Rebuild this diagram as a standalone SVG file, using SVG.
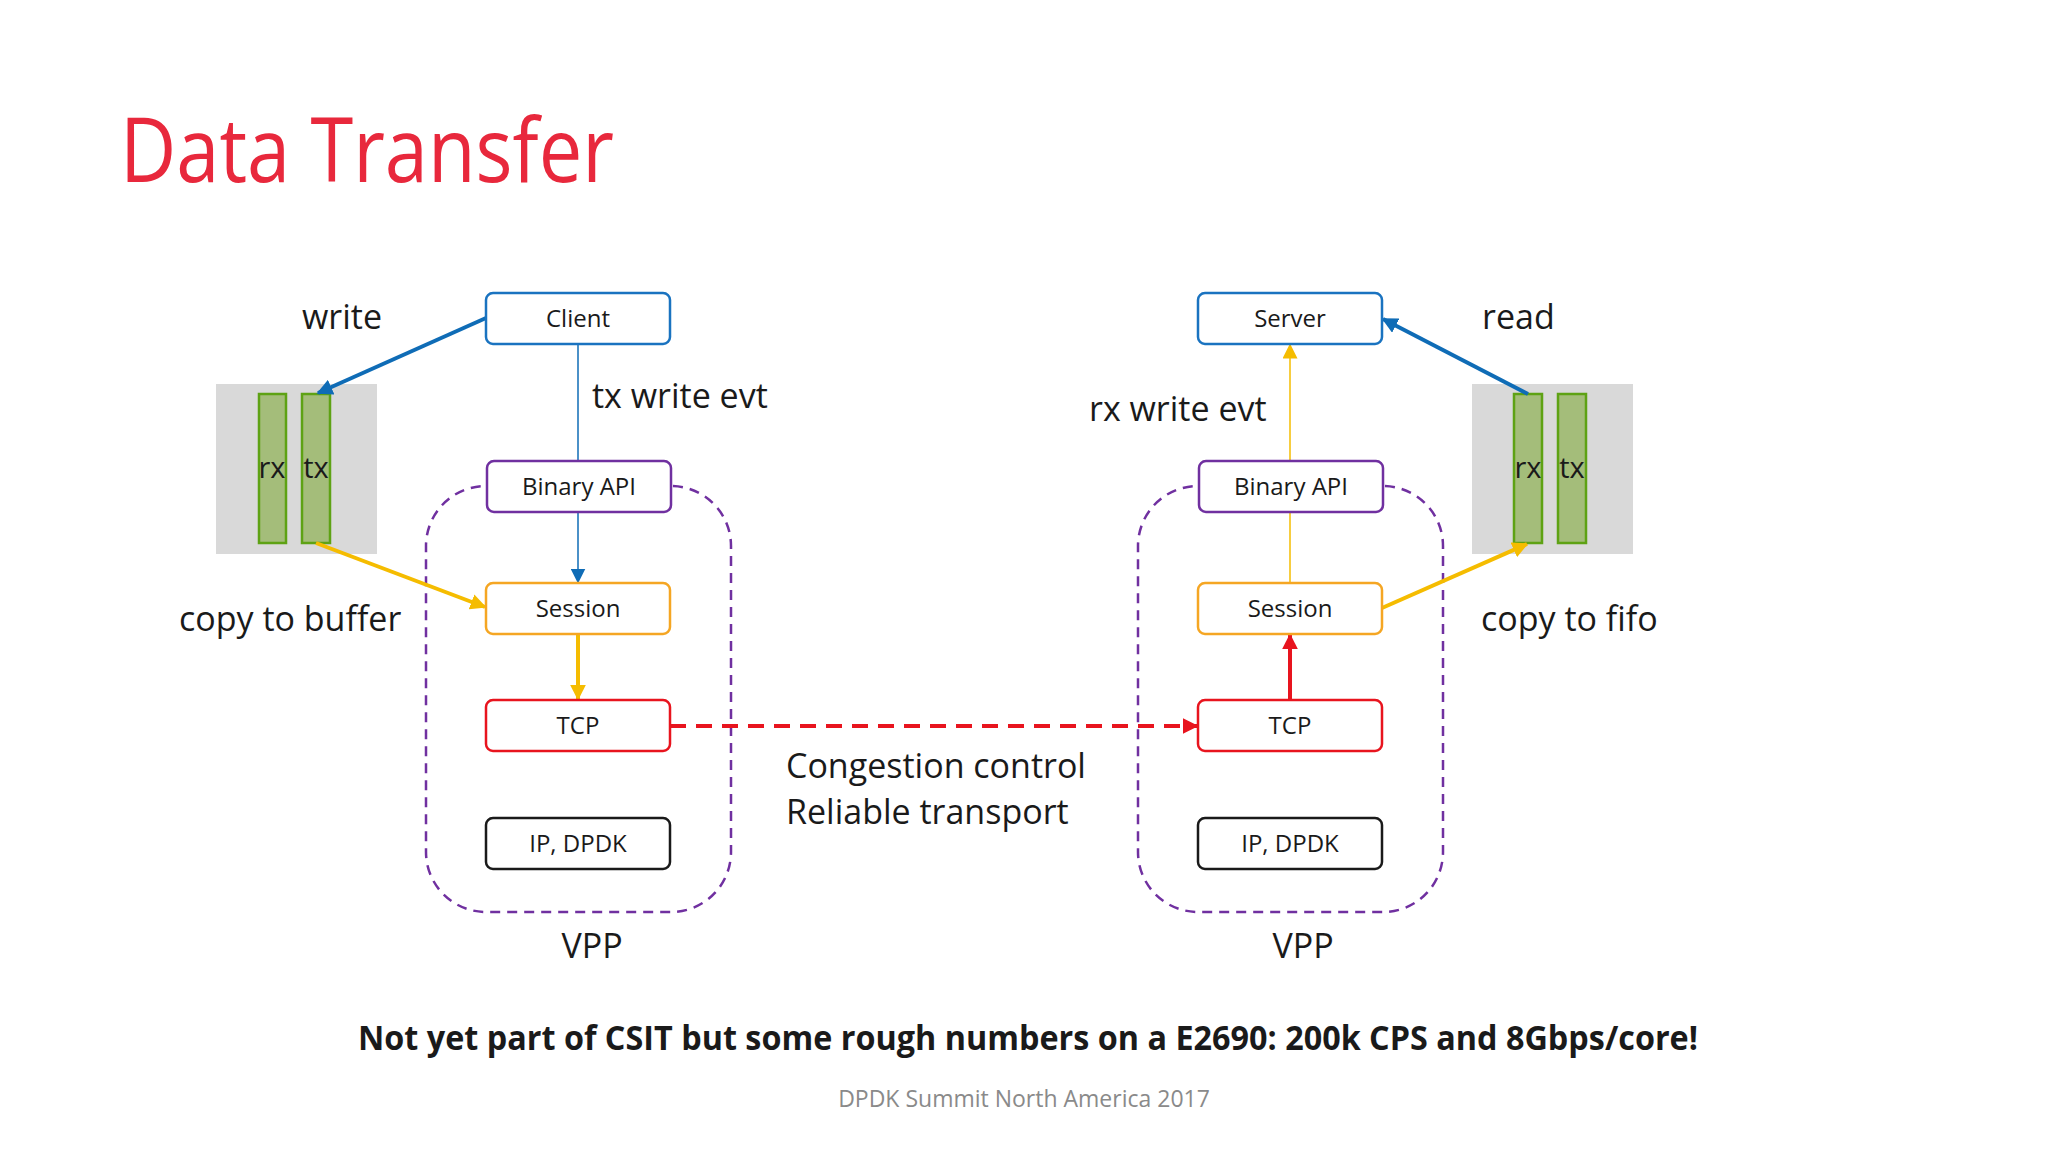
<svg xmlns="http://www.w3.org/2000/svg" width="2048" height="1152" viewBox="0 0 2048 1152">
<style>
text{font-family:"Open Sans","Noto Sans",sans-serif;fill:#1a1a1a}
.box{fill:#fff;stroke-width:2.5}
.bt{font-size:24px;text-anchor:middle}
.lbl{font-size:34px}
.vpp{fill:none;stroke:#7030a0;stroke-width:2.5;stroke-dasharray:10 7}
.bar{fill:#a4bd7a;stroke:#5ea214;stroke-width:2.5}
</style>
<defs>
<marker id="ab" viewBox="0 0 10 10" refX="9" refY="5" markerWidth="4" markerHeight="4" orient="auto"><path d="M0,0L10,5L0,10z" fill="#0f6cb6"/></marker>
<marker id="abs" viewBox="0 0 10 10" refX="9" refY="5" markerWidth="10" markerHeight="10" orient="auto"><path d="M0,0L10,5L0,10z" fill="#0f6cb6"/></marker>
<marker id="ay" viewBox="0 0 10 10" refX="9" refY="5" markerWidth="4" markerHeight="4" orient="auto"><path d="M0,0L10,5L0,10z" fill="#f5bc00"/></marker>
<marker id="ays" viewBox="0 0 10 10" refX="9" refY="5" markerWidth="10" markerHeight="10" orient="auto"><path d="M0,0L10,5L0,10z" fill="#f5bc00"/></marker>
<marker id="ar" viewBox="0 0 10 10" refX="9" refY="5" markerWidth="4" markerHeight="4" orient="auto"><path d="M0,0L10,5L0,10z" fill="#e8141e"/></marker>
</defs>
<rect width="2048" height="1152" fill="#fff"/>
<text x="120" y="182" font-size="90" style="fill:#e8283c" textLength="494" lengthAdjust="spacingAndGlyphs">Data Transfer</text>

<g id="vpp-left"><rect class="vpp" x="426" y="486" width="305" height="426" rx="60"/><text class="lbl" x="592" y="958" text-anchor="middle">VPP</text></g>
<g id="vpp-right"><rect class="vpp" x="1138" y="486" width="305" height="426" rx="60"/><text class="lbl" x="1303" y="958" text-anchor="middle">VPP</text></g>

<g id="buffer-left">
<rect x="216" y="384" width="161" height="170" fill="#d9d9d9"/>
<rect class="bar" x="259" y="394" width="27" height="149"/>
<rect class="bar" x="302" y="394" width="28" height="149"/>
<text x="272" y="478" font-size="29" text-anchor="middle">rx</text>
<text x="316" y="478" font-size="29" text-anchor="middle">tx</text>
</g>
<g id="buffer-right">
<rect x="1472" y="384" width="161" height="170" fill="#d9d9d9"/>
<rect class="bar" x="1514" y="394" width="28" height="149"/>
<rect class="bar" x="1558" y="394" width="28" height="149"/>
<text x="1528" y="478" font-size="29" text-anchor="middle">rx</text>
<text x="1572" y="478" font-size="29" text-anchor="middle">tx</text>
</g>

<g id="connectors" fill="none">
<line x1="486" y1="318" x2="318" y2="393" stroke="#0f6cb6" stroke-width="4" marker-end="url(#ab)"/>
<line x1="578" y1="344" x2="578" y2="461" stroke="#0f6cb6" stroke-width="1.5"/>
<line x1="578" y1="512" x2="578" y2="582" stroke="#0f6cb6" stroke-width="1.5" marker-end="url(#abs)"/>
<line x1="316" y1="543" x2="485" y2="607" stroke="#f5bc00" stroke-width="4" marker-end="url(#ay)"/>
<line x1="578" y1="634" x2="578" y2="699" stroke="#f5bc00" stroke-width="4" marker-end="url(#ay)"/>
<line x1="670" y1="726" x2="1197" y2="726" stroke="#e8141e" stroke-width="4" stroke-dasharray="16 10" marker-end="url(#ar)"/>
<line x1="1290" y1="700" x2="1290" y2="635" stroke="#e8141e" stroke-width="4" marker-end="url(#ar)"/>
<line x1="1290" y1="583" x2="1290" y2="512" stroke="#f5bc00" stroke-width="1.5"/>
<line x1="1290" y1="461" x2="1290" y2="345" stroke="#f5bc00" stroke-width="1.5" marker-end="url(#ays)"/>
<line x1="1382" y1="608" x2="1527" y2="544" stroke="#f5bc00" stroke-width="4" marker-end="url(#ay)"/>
<line x1="1528" y1="394" x2="1383" y2="319" stroke="#0f6cb6" stroke-width="4" marker-end="url(#ab)"/>
</g>

<g id="client"><rect class="box" x="486" y="293" width="184" height="51" rx="7" stroke="#1a73c0"/><text class="bt" x="578" y="327">Client</text></g>
<g id="binapi-left"><rect class="box" x="487" y="461" width="184" height="51" rx="7" stroke="#7030a0"/><text class="bt" x="579" y="495">Binary API</text></g>
<g id="session-left"><rect class="box" x="486" y="583" width="184" height="51" rx="7" stroke="#f5a623"/><text class="bt" x="578" y="617">Session</text></g>
<g id="tcp-left"><rect class="box" x="486" y="700" width="184" height="51" rx="7" stroke="#e8141e"/><text class="bt" x="578" y="734">TCP</text></g>
<g id="ip-left"><rect class="box" x="486" y="818" width="184" height="51" rx="7" stroke="#1a1a1a"/><text class="bt" x="578" y="852">IP, DPDK</text></g>

<g id="server"><rect class="box" x="1198" y="293" width="184" height="51" rx="7" stroke="#1a73c0"/><text class="bt" x="1290" y="327">Server</text></g>
<g id="binapi-right"><rect class="box" x="1199" y="461" width="184" height="51" rx="7" stroke="#7030a0"/><text class="bt" x="1291" y="495">Binary API</text></g>
<g id="session-right"><rect class="box" x="1198" y="583" width="184" height="51" rx="7" stroke="#f5a623"/><text class="bt" x="1290" y="617">Session</text></g>
<g id="tcp-right"><rect class="box" x="1198" y="700" width="184" height="51" rx="7" stroke="#e8141e"/><text class="bt" x="1290" y="734">TCP</text></g>
<g id="ip-right"><rect class="box" x="1198" y="818" width="184" height="51" rx="7" stroke="#1a1a1a"/><text class="bt" x="1290" y="852">IP, DPDK</text></g>

<g id="labels">
<text class="lbl" x="302" y="329">write</text>
<text class="lbl" x="592" y="408">tx write evt</text>
<text class="lbl" x="1089" y="421">rx write evt</text>
<text class="lbl" x="1482" y="329">read</text>
<text class="lbl" x="179" y="631">copy to buffer</text>
<text class="lbl" x="1481" y="631">copy to fifo</text>
<text class="lbl" x="786" y="778">Congestion control</text>
<text class="lbl" x="786" y="824">Reliable transport</text>
<text x="1028" y="1050" font-size="34" font-weight="bold" text-anchor="middle" textLength="1340" lengthAdjust="spacingAndGlyphs">Not yet part of CSIT but some rough numbers on a E2690: 200k CPS and 8Gbps/core!</text>
<text x="1024" y="1107" font-size="23" text-anchor="middle" style="fill:#8a8a8a">DPDK Summit North America 2017</text>
</g>
</svg>
